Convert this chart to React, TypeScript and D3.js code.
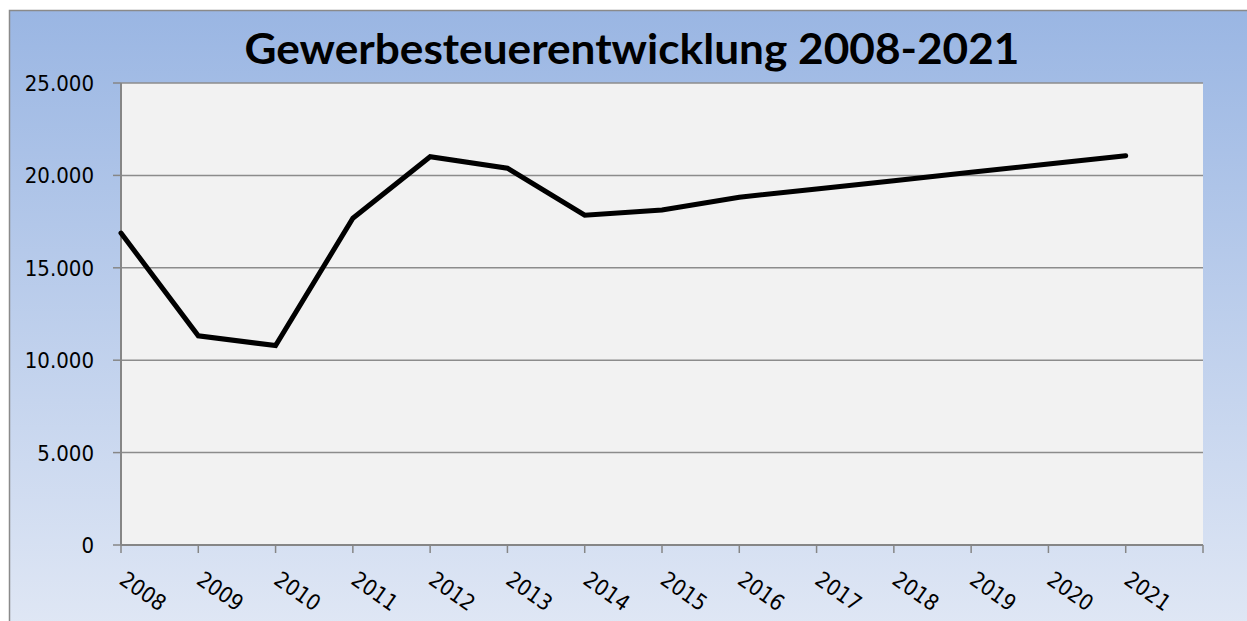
import * as d3 from 'd3';
import { useEffect, useRef } from 'react';

// Gewerbesteuer in Tsd. EUR
const years = ['2008', '2009', '2010', '2011', '2012', '2013', '2014', '2015', '2016', '2017', '2018', '2019', '2020', '2021'];
const values = [16880, 11320, 10790, 17680, 21010, 20390, 17850, 18130, 18820, 19270, 19710, 20170, 20620, 21060];
const yTicks = [0, 5000, 10000, 15000, 20000, 25000];

const App = () => {
  const svgRef = useRef<SVGSVGElement>(null);

  useEffect(() => {
    const width = 1247;
    const height = 621;
    const left = 121;
    const right = 1203;
    const top = 83;
    const bottom = 545;
    const labelFont = 'DejaVu Sans Condensed, DejaVu Sans, Verdana, sans-serif';

    const svg = d3.select(svgRef.current)
      .attr('width', width)
      .attr('height', height);

    const defs = svg.append('defs');
    const grad = defs.append('linearGradient')
      .attr('id', 'bg')
      .attr('x1', 0).attr('y1', 0).attr('x2', 0).attr('y2', 1);
    grad.append('stop').attr('offset', '0%').attr('stop-color', '#9ab6e3');
    grad.append('stop').attr('offset', '100%').attr('stop-color', '#e1e8f5');

    // outer chart area
    svg.append('rect')
      .attr('x', 9.5).attr('y', 10.5)
      .attr('width', width + 10).attr('height', height + 10)
      .attr('fill', 'url(#bg)')
      .attr('stroke', '#8a8a8a')
      .attr('stroke-width', 1.5);

    // plot area
    svg.append('rect')
      .attr('x', left).attr('y', top)
      .attr('width', right - left).attr('height', bottom - top)
      .attr('fill', '#f2f2f2');

    // one extra slot after the last year, points sit on the ticks
    const x = d3.scaleLinear().domain([0, years.length]).range([left, right]);
    const y = d3.scaleLinear().domain([0, 25000]).range([bottom, top]);
    const fmt = (v: number) => d3.format(',')(v).replace(/,/g, '.');

    // gridlines
    svg.append('g')
      .selectAll('line')
      .data(yTicks.slice(1))
      .enter()
      .append('line')
      .attr('x1', left).attr('x2', right)
      .attr('y1', (d) => y(d)).attr('y2', (d) => y(d))
      .attr('stroke', '#8c8c8c')
      .attr('stroke-width', 1.5);

    // y axis
    const yAxis = svg.append('g');
    yAxis.append('line')
      .attr('x1', left).attr('x2', left)
      .attr('y1', top).attr('y2', bottom)
      .attr('stroke', '#868686').attr('stroke-width', 2);
    yAxis.selectAll('.tick')
      .data(yTicks)
      .enter()
      .append('line')
      .attr('x1', left - 8).attr('x2', left)
      .attr('y1', (d) => y(d)).attr('y2', (d) => y(d))
      .attr('stroke', '#868686').attr('stroke-width', 1.5);
    yAxis.selectAll('text')
      .data(yTicks)
      .enter()
      .append('text')
      .attr('x', 94)
      .attr('y', (d) => y(d))
      .attr('dy', '0.36em')
      .attr('text-anchor', 'end')
      .attr('font-family', labelFont)
      .attr('font-stretch', 'condensed')
      .attr('font-size', 22)
      .attr('fill', '#000')
      .text((d) => fmt(d));

    // x axis
    const xAxis = svg.append('g');
    xAxis.append('line')
      .attr('x1', left).attr('x2', right)
      .attr('y1', bottom).attr('y2', bottom)
      .attr('stroke', '#868686').attr('stroke-width', 2);
    xAxis.selectAll('.tick')
      .data(d3.range(years.length + 1))
      .enter()
      .append('line')
      .attr('x1', (d) => x(d)).attr('x2', (d) => x(d))
      .attr('y1', bottom).attr('y2', bottom + 8)
      .attr('stroke', '#868686').attr('stroke-width', 1.5);
    xAxis.selectAll('text')
      .data(years)
      .enter()
      .append('text')
      .attr('transform', (d, i) => `translate(${x(i) - 3},${bottom + 38}) rotate(35)`)
      .attr('font-family', labelFont)
      .attr('font-stretch', 'condensed')
      .attr('font-size', 22)
      .attr('fill', '#000')
      .text((d) => d);

    // line
    const line = d3.line<number>()
      .x((d, i) => x(i))
      .y((d) => y(d));
    svg.append('path')
      .datum(values)
      .attr('d', line)
      .attr('fill', 'none')
      .attr('stroke', '#000')
      .attr('stroke-width', 5)
      .attr('stroke-linecap', 'round')
      .attr('stroke-linejoin', 'miter');

    // title
    svg.append('text')
      .attr('x', 632)
      .attr('y', 64)
      .attr('text-anchor', 'middle')
      .attr('font-family', 'Lato, Open Sans, sans-serif')
      .attr('font-weight', 'bold')
      .attr('font-size', 42)
      .attr('textLength', 775)
      .attr('lengthAdjust', 'spacingAndGlyphs')
      .attr('fill', '#000')
      .text('Gewerbesteuerentwicklung 2008-2021');

    return () => {
      svg.selectAll('*').remove();
    };
  }, []);

  return <svg ref={svgRef} style={{ position: 'absolute', left: 0, top: 0, display: 'block' }} />;
};

export default App;
